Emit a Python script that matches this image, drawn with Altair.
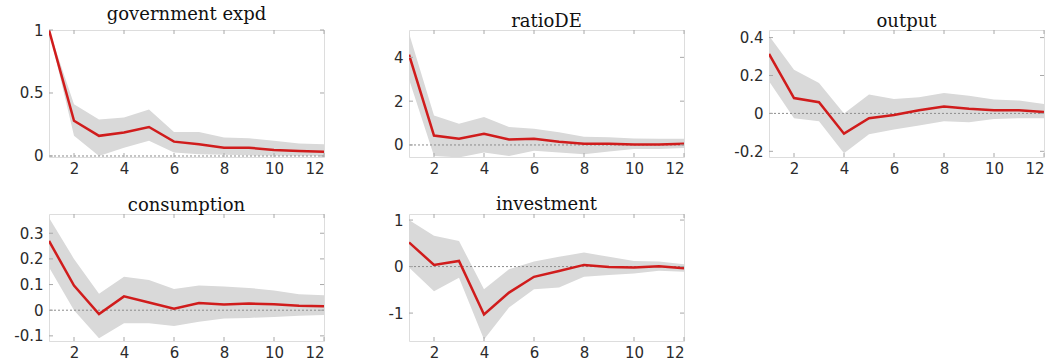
import altair as alt
import pandas as pd

# Impulse-response horizons
periods = list(range(1, 13))

# Median responses and credible bands for each variable
gov_med = [1.0, 0.28, 0.16, 0.186, 0.23, 0.114, 0.093, 0.066, 0.066, 0.048, 0.04, 0.034]
gov_lo = [1.0, 0.16, 0.0, 0.066, 0.12, 0.027, 0.013, 0.01, 0.005, 0.003, 0.002, 0.002]
gov_hi = [1.0, 0.41, 0.29, 0.305, 0.37, 0.19, 0.19, 0.146, 0.14, 0.12, 0.10, 0.093]

ratio_med = [4.12, 0.43, 0.28, 0.51, 0.25, 0.28, 0.15, 0.05, 0.06, 0.02, 0.02, 0.05]
ratio_lo = [3.0, -0.5, -0.57, -0.34, -0.5, -0.26, -0.34, -0.42, -0.3, -0.18, -0.18, -0.14]
ratio_hi = [5.1, 1.35, 0.97, 1.28, 0.82, 0.74, 0.58, 0.38, 0.35, 0.30, 0.28, 0.28]

out_med = [0.314, 0.081, 0.059, -0.107, -0.025, -0.008, 0.017, 0.037, 0.025, 0.017, 0.017, 0.007]
out_lo = [0.17, -0.025, -0.042, -0.21, -0.11, -0.085, -0.064, -0.042, -0.047, -0.03, -0.025, -0.025]
out_hi = [0.41, 0.23, 0.16, 0.0, 0.10, 0.076, 0.085, 0.107, 0.093, 0.073, 0.068, 0.05]

cons_med = [0.27, 0.096, -0.015, 0.054, 0.03, 0.006, 0.028, 0.022, 0.026, 0.023, 0.017, 0.015]
cons_lo = [0.167, 0.0, -0.109, -0.051, -0.051, -0.062, -0.045, -0.032, -0.03, -0.026, -0.022, -0.019]
cons_hi = [0.36, 0.20, 0.064, 0.13, 0.118, 0.083, 0.096, 0.092, 0.087, 0.077, 0.062, 0.058]

inv_med = [0.52, 0.036, 0.12, -1.03, -0.56, -0.22, -0.094, 0.036, -0.007, -0.02, 0.007, -0.036]
inv_lo = [-0.02, -0.53, -0.24, -1.57, -0.88, -0.49, -0.45, -0.22, -0.18, -0.15, -0.09, -0.11]
inv_hi = [1.0, 0.66, 0.55, -0.49, -0.06, 0.11, 0.21, 0.30, 0.21, 0.12, 0.11, 0.05]

x_ticks = [2, 4, 6, 8, 10, 12]

W, H = 275, 127
FRAME = "#a8a8a8"
TICK_LEN = 4
Y_EXTENT = 45
X_EXTENT = 22
LABEL_SIZE = 15


def panel(title, med, lo, hi, domain, y_ticks):
    df = pd.DataFrame({"h": periods, "med": med, "lo": lo, "hi": hi})
    xs = alt.Scale(domain=[1, 12], nice=False, zero=False)
    ys = alt.Scale(domain=domain, nice=False, zero=False)

    label_style = dict(labelFont="DejaVu Sans", labelFontSize=LABEL_SIZE,
                       labelColor="#2b2b2b", labelOverlap=False,
                       domain=False, ticks=False, grid=False, title=None)
    # every layer shares the same axis definitions so they merge cleanly
    x_axis = alt.Axis(values=x_ticks, labelPadding=4,
                      minExtent=X_EXTENT, maxExtent=X_EXTENT, **label_style)
    y_axis = alt.Axis(values=y_ticks, labelPadding=6,
                      labelExpr="datum.value + ''",
                      minExtent=Y_EXTENT, maxExtent=Y_EXTENT, **label_style)

    def X(field):
        return alt.X(field, scale=xs, axis=x_axis)

    def Y(field):
        return alt.Y(field, scale=ys, axis=y_axis)

    base = alt.Chart(df)
    band = base.mark_area(color="#d9d9d9", opacity=1, clip=True).encode(
        x=X("h:Q"), y=Y("lo:Q"), y2="hi:Q",
    )
    zero = alt.Chart(pd.DataFrame({"z": [0]})).mark_rule(
        color="#8c8c8c", strokeDash=[2, 2], strokeWidth=1
    ).encode(y=Y("z:Q"))
    line = base.mark_line(color="#d01c1c", strokeWidth=2.5, clip=True).encode(
        x=X("h:Q"), y=Y("med:Q"),
    )

    # inward tick marks on all four sides of the frame
    xt = pd.DataFrame({"t": x_ticks})
    yt = pd.DataFrame({"t": y_ticks})
    tick_style = dict(color=FRAME, strokeWidth=1)
    xb = alt.Chart(xt).mark_rule(**tick_style).encode(
        x=X("t:Q"), y=alt.value(H), y2=alt.value(H - TICK_LEN))
    xtp = alt.Chart(xt).mark_rule(**tick_style).encode(
        x=X("t:Q"), y=alt.value(0), y2=alt.value(TICK_LEN))
    yl = alt.Chart(yt).mark_rule(**tick_style).encode(
        y=Y("t:Q"), x=alt.value(0), x2=alt.value(TICK_LEN))
    yr = alt.Chart(yt).mark_rule(**tick_style).encode(
        y=Y("t:Q"), x=alt.value(W), x2=alt.value(W - TICK_LEN))

    return alt.layer(band, zero, line, xb, xtp, yl, yr).properties(
        width=W, height=H,
        title=alt.TitleParams(title, font="DejaVu Serif", fontSize=18,
                              fontWeight="normal", color="#111111", offset=3,
                              dy=4),
    )


p1 = panel("government expd", gov_med, gov_lo, gov_hi, [-0.008, 1.0], [0, 0.5, 1])
p2 = panel("ratioDE", ratio_med, ratio_lo, ratio_hi, [-0.55, 5.25], [0, 2, 4])
p3 = panel("output", out_med, out_lo, out_hi, [-0.23, 0.44], [-0.2, 0, 0.2, 0.4])
p4 = panel("consumption", cons_med, cons_lo, cons_hi, [-0.12, 0.375],
           [-0.1, 0, 0.1, 0.2, 0.3])
p5 = panel("investment", inv_med, inv_lo, inv_hi, [-1.6, 1.13], [-1, 0, 1])

top = alt.hconcat(p1, p2, p3, spacing=38)
bottom = alt.hconcat(p4, p5, spacing=38)

chart = alt.vconcat(top, bottom, spacing=15).properties(
    padding={"left": 3, "top": 5, "right": 5, "bottom": 0}
).configure_view(
    stroke=FRAME, strokeWidth=1
).configure(background="white")

chart.save("out.html", embed_options={"renderer": "svg", "actions": False})
